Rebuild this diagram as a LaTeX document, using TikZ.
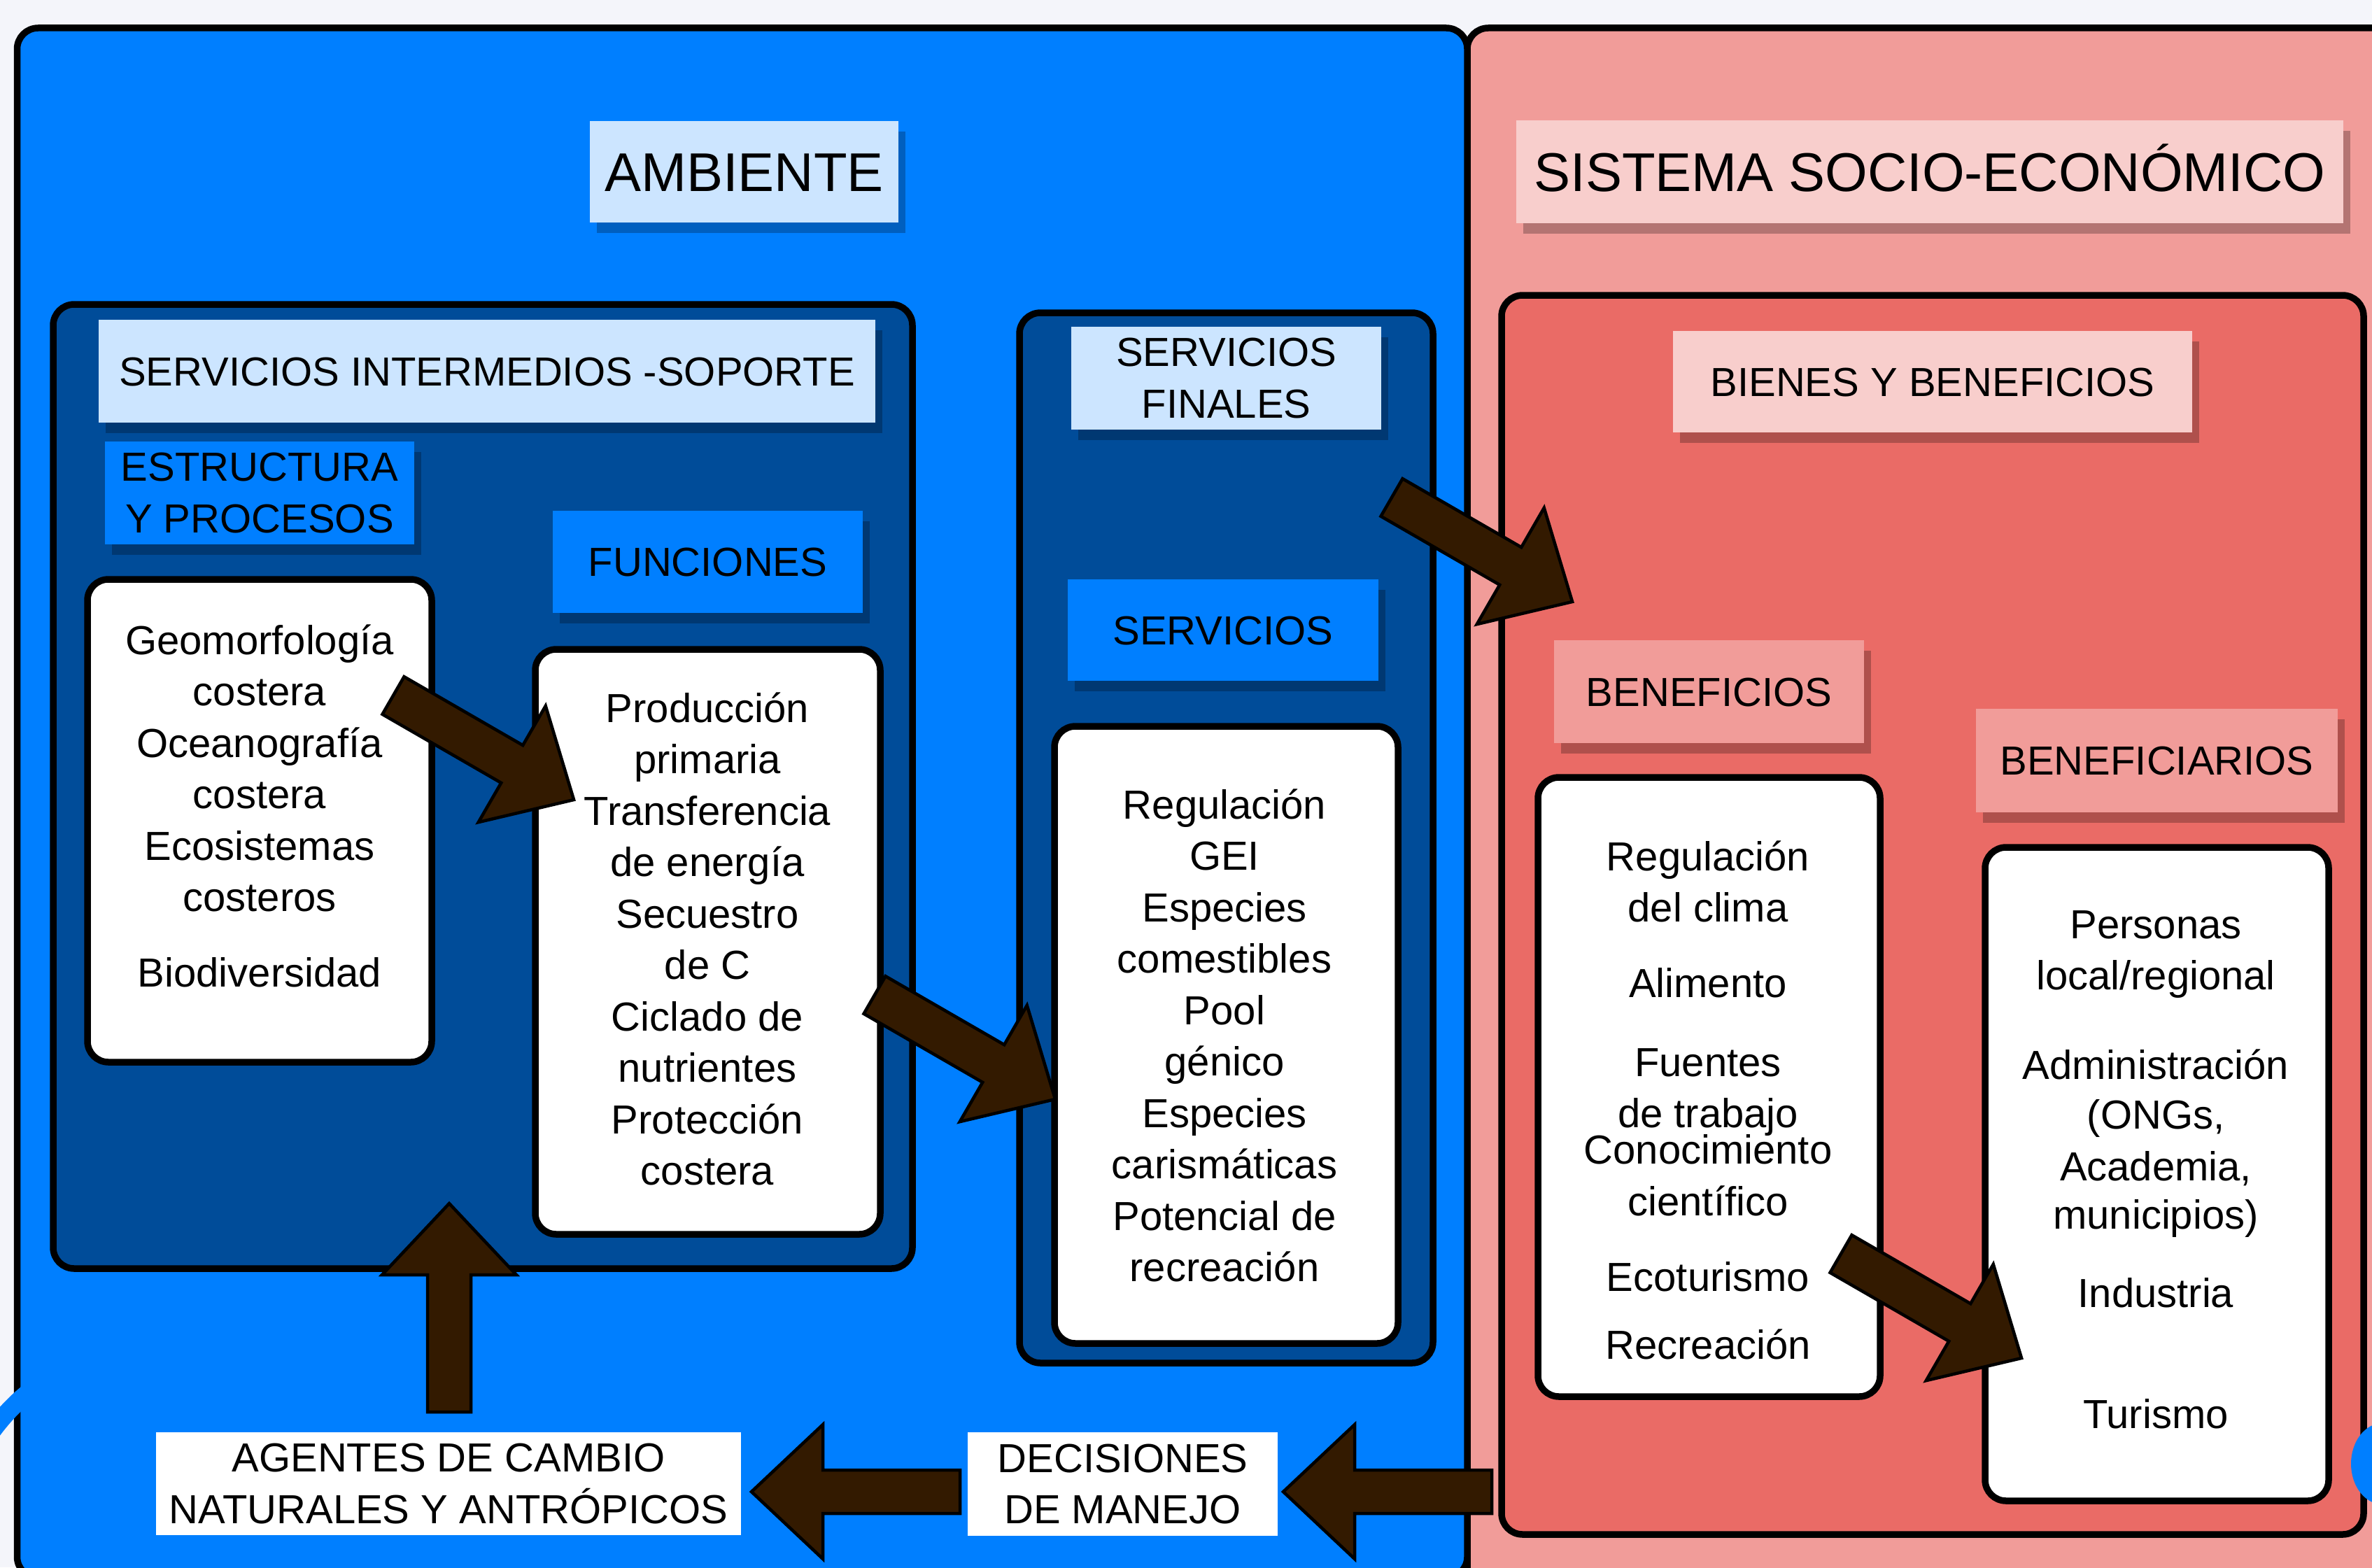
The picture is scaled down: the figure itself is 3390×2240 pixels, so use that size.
\documentclass[tikz,border=0pt]{standalone}
\usepackage{fontspec}
\setmainfont{Liberation Sans}
\usetikzlibrary{shadows}
\definecolor{bg}{RGB}{244,245,250}
\definecolor{bblue}{RGB}{0,127,255}
\definecolor{dblue}{RGB}{0,76,153}
\definecolor{lblue}{RGB}{204,229,255}
\definecolor{pinkA}{RGB}{241,156,153}
\definecolor{pinkB}{RGB}{248,206,204}
\definecolor{redA}{RGB}{234,107,102}
\definecolor{brownA}{RGB}{51,26,0}
\newcommand\tl[4]{\node[body] (#1) at (#2,-#3) {#4};}
\begin{document}
\begin{tikzpicture}[x=1pt,y=1pt,
  panel/.style={draw=black, line width=9.5pt, rounded corners=30pt, outer sep=0pt, inner sep=0pt, anchor=north west},
  whitebox/.style={panel, fill=white},
  lab/.style={inner sep=0pt, outer sep=0pt, font=\fontsize{58}{73.5}\selectfont, align=center},
  shad/.style={general shadow={fill=black, opacity=0.25, shadow xshift=10pt, shadow yshift=-15pt}},
  oneline/.style={text height=41.5pt, text depth=0pt},
  title/.style={lab, shad, text height=56pt, text depth=0pt, font=\fontsize{78}{94}\selectfont},
  body/.style={inner sep=0pt, anchor=base, font=\fontsize{58}{73.5}\selectfont},
  barrow/.style={draw=black, fill=brownA, line width=4.5pt, line join=miter},
  pics/barr/.style={code={\draw[barrow] (0,-31) -- (196,-31) -- (196,-96) -- (298,0) -- (196,96) -- (196,31) -- (0,31) -- cycle;}}
]
\useasboundingbox (0,-2240) rectangle (3390,0);
\clip (0,-2240) rectangle (3390,0);
\fill[bg] (0,-2240) rectangle (3390,0);

% outer panels
\node[panel, fill=pinkA, minimum width=1333pt, minimum height=2240pt] (socio) at (2097,-40) {};
\node[panel, fill=bblue, minimum width=2072.5pt, minimum height=2215pt] (amb) at (24.5,-40) {};
\node[panel, fill=redA, minimum width=1232pt, minimum height=1771pt] (bienes) at (2146,-422) {};
\node[panel, fill=dblue, minimum width=1228pt, minimum height=1378pt] (inter) at (76,-435) {};
\node[panel, fill=dblue, minimum width=591pt, minimum height=1501pt] (finales) at (1457,-447) {};

% labels
\node[title, fill=lblue, minimum width=441pt, minimum height=145pt] (tamb) at (1063.5,-245.5) {AMBIENTE};
\node[title, fill=pinkB, minimum width=1182pt, minimum height=147pt] (tsis) at (2758,-245.5) {SISTEMA SOCIO-ECONÓMICO};
\node[lab, shad, oneline, fill=lblue, minimum width=1110pt, minimum height=147pt] (tint) at (696,-530.5) {SERVICIOS INTERMEDIOS -SOPORTE};
\node[lab, shad, fill=bblue, minimum width=442pt, minimum height=147pt] (test) at (371,-704.5) {ESTRUCTURA\\Y PROCESOS};
\node[lab, shad, oneline, fill=bblue, minimum width=443pt, minimum height=146pt] (tfun) at (1011.5,-803) {FUNCIONES};
\node[lab, shad, fill=lblue, minimum width=443pt, minimum height=147pt] (tfin) at (1752.5,-540.5) {SERVICIOS\\FINALES};
\node[lab, shad, oneline, fill=bblue, minimum width=444pt, minimum height=145pt] (tserv) at (1748,-900.5) {SERVICIOS};
\node[lab, shad, oneline, fill=pinkB, minimum width=742pt, minimum height=145pt] (tbyb) at (2762,-545.5) {BIENES Y BENEFICIOS};
\node[lab, shad, oneline, fill=pinkA, minimum width=443pt, minimum height=147pt] (tben) at (2442.5,-988.5) {BENEFICIOS};
\node[lab, shad, oneline, fill=pinkA, minimum width=517pt, minimum height=148pt] (tbfy) at (3082.5,-1087) {BENEFICIARIOS};
\node[lab, fill=white, minimum width=836pt, minimum height=147pt] (agen) at (641,-2120.5) {AGENTES DE CAMBIO\\NATURALES Y ANTRÓPICOS};
\node[lab, fill=white, minimum width=443pt, minimum height=148pt] (dec) at (1604.5,-2121) {DECISIONES\\DE MANEJO};

% white boxes
\node[whitebox, minimum width=492pt, minimum height=690pt] (geo) at (125,-828) {};
\node[whitebox, minimum width=493pt, minimum height=836pt] (prod) at (765,-928) {};
\node[whitebox, minimum width=491pt, minimum height=882pt] (reg) at (1507,-1038) {};
\node[whitebox, minimum width=489pt, minimum height=885pt] (ben) at (2198,-1111) {};
\node[whitebox, minimum width=491pt, minimum height=934pt] (bfy) at (2837,-1211) {};

% texts
\tl{g1}{371}{935}{Geomorfología}
\tl{g2}{371}{1008.5}{costera}
\tl{g3}{371}{1082}{Oceanografía}
\tl{g4}{371}{1155.5}{costera}
\tl{g5}{371}{1229}{Ecosistemas}
\tl{g6}{371}{1302.5}{costeros}
\tl{g7}{371}{1410}{Biodiversidad}

\tl{p1}{1011}{1032}{Producción}
\tl{p2}{1011}{1105.5}{primaria}
\tl{p3}{1011}{1179}{Transferencia}
\tl{p4}{1011}{1252.5}{de energía}
\tl{p5}{1011}{1326}{Secuestro}
\tl{p6}{1011}{1399.5}{de C}
\tl{p7}{1011}{1473}{Ciclado de}
\tl{p8}{1011}{1546.5}{nutrientes}
\tl{p9}{1011}{1620}{Protección}
\tl{p10}{1011}{1693.5}{costera}

\tl{r1}{1750}{1170}{Regulación}
\tl{r2}{1750}{1243.5}{GEI}
\tl{r3}{1750}{1317}{Especies}
\tl{r4}{1750}{1390.5}{comestibles}
\tl{r5}{1750}{1464}{Pool}
\tl{r6}{1750}{1537.5}{génico}
\tl{r7}{1750}{1611}{Especies}
\tl{r8}{1750}{1684.5}{carismáticas}
\tl{r9}{1750}{1758}{Potencial de}
\tl{r10}{1750}{1831.5}{recreación}

\tl{b1}{2441}{1244}{Regulación}
\tl{b2}{2441}{1317}{del clima}
\tl{b3}{2441}{1425}{Alimento}
\tl{b4}{2441}{1538}{Fuentes}
\tl{b5}{2441}{1611}{de trabajo}
\tl{b6}{2441}{1663}{Conocimiento}
\tl{b7}{2441}{1737}{científico}
\tl{b8}{2441}{1845}{Ecoturismo}
\tl{b9}{2441}{1942}{Recreación}

\tl{f1}{3081}{1341}{Personas}
\tl{f2}{3081}{1414}{local/regional}
\tl{f3}{3081}{1542}{Administración}
\tl{f4}{3081}{1613}{(ONGs,}
\tl{f5}{3081}{1687}{Academia,}
\tl{f6}{3081}{1756}{municipios)}
\tl{f7}{3081}{1868}{Industria}
\tl{f8}{3081}{2041}{Turismo}

% block arrows
\coordinate (t1) at (562,-994);
\coordinate (t2) at (1250,-1422);
\coordinate (t3) at (1989,-711);
\coordinate (t4) at (2631,-1792);
\coordinate (t5) at (642,-2018);
\coordinate (t6) at (2132,-2132);
\coordinate (t7) at (1372,-2132);
\pic (a1) [rotate=-30] at (t1) {barr};
\pic (a2) [rotate=-30] at (t2) {barr};
\pic (a3) [rotate=-30] at (t3) {barr};
\pic (a4) [rotate=-30] at (t4) {barr};
\pic (a5) [rotate=90] at (t5) {barr};
\pic (a6) [rotate=180] at (t6) {barr};
\pic (a7) [rotate=180] at (t7) {barr};

% fragments of blue loop at the edges
\draw[bblue, line width=26pt] (130,-1942) .. controls (60,-1967) and (15,-2002) .. (-30,-2072);
\fill[bblue] (3405,-2092) ellipse [x radius=45pt, y radius=58pt];
\end{tikzpicture}
\end{document}
